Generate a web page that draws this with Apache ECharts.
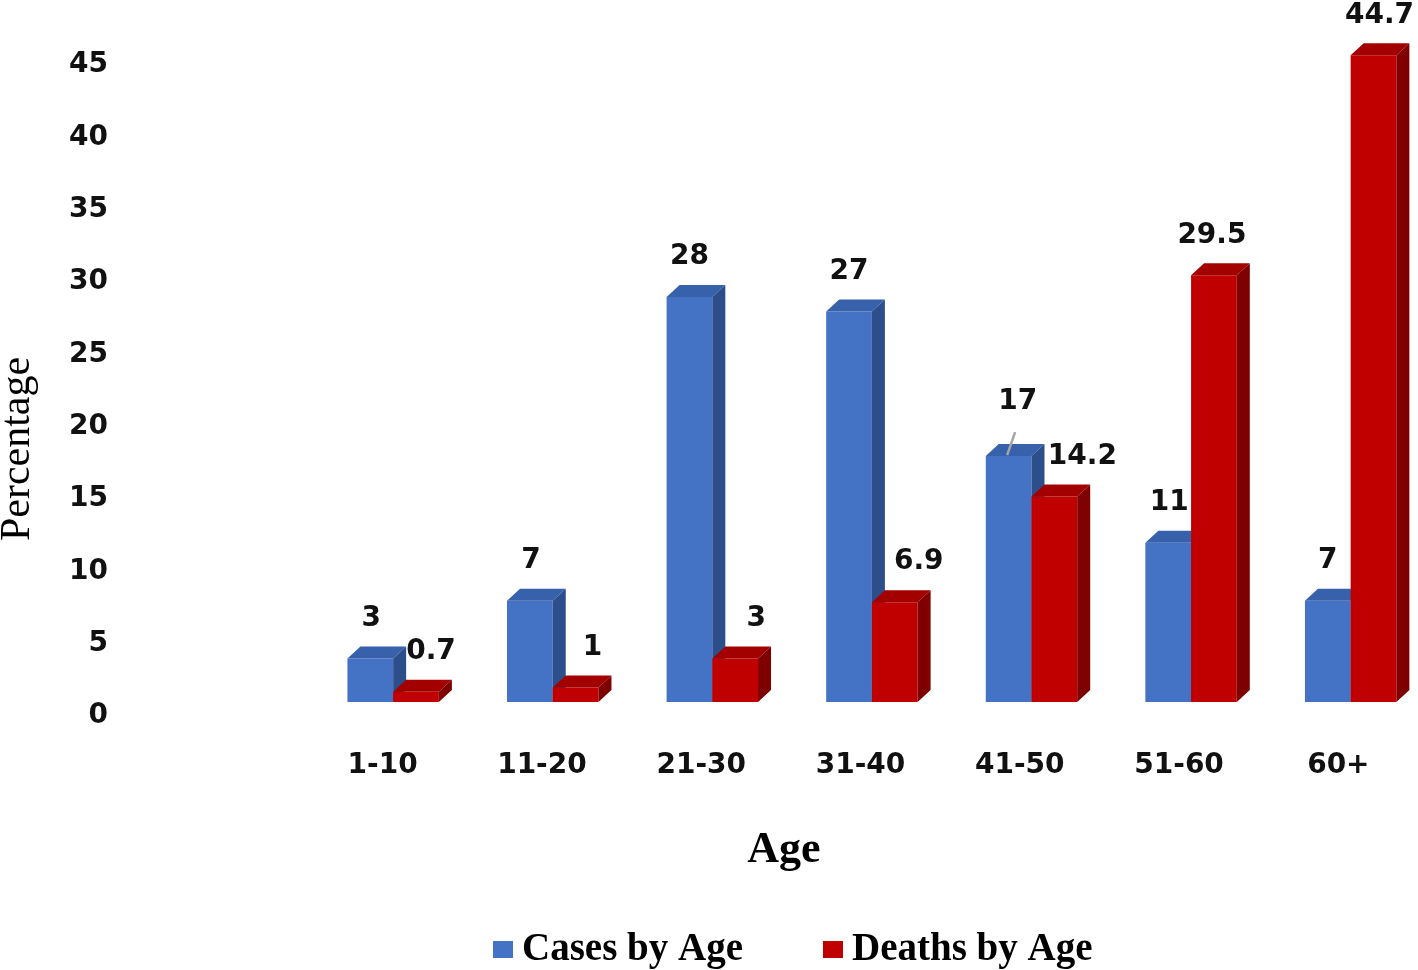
<!DOCTYPE html>
<html>
<head>
<meta charset="utf-8">
<script src="https://cdn.jsdelivr.net/npm/echarts@6/dist/echarts.min.js"></script>
<style>html,body{margin:0;padding:0;background:#fff}#c{width:1418px;height:970px}</style>
</head>
<body>
<div id="c"></div>
<script>
const ages = ['1-10', '11-20', '21-30', '31-40', '41-50', '51-60', '60+'];
const cases = [3, 7, 28, 27, 17, 11, 7];
const deaths = [0.7, 1, 3, 6.9, 14.2, 29.5, 44.7];
const yMin = 0, yMax = 45, yStep = 5;
// label nudges (pixels) as seen in the original picture
const casesLabelShift = [1, 1, 0, 0, 9, 1, 0];
const deathsLabelShift = [15, 17, 21, 24, 28, -2, 6];

const LIFT = 14, DX = 13, DY = 12, PAIR_SHIFT = 10.5;
const LABEL_FONT = 'bold 28px "DejaVu Sans"';

function makeRender(side, colors, shifts, leaderIdx) {
  return function (params, api) {
    const i = api.value(0), v = api.value(1);
    const base = api.coord([i, 0]);
    const top = api.coord([i, v]);
    const band = api.size([1, 0])[0];
    const w = band * 0.287;
    const mid = base[0] + PAIR_SHIFT + i * 0.3;
    const x0 = side < 0 ? mid - w : mid;
    const x1 = x0 + w;
    const yb = base[1] - LIFT;
    const yt = top[1] - LIFT;
    const children = [
      { type: 'rect', shape: { x: x0, y: yt, width: w, height: yb - yt }, style: { fill: colors[0] } },
      { type: 'polygon', shape: { points: [[x0, yt], [x0 + DX, yt - DY], [x1 + DX, yt - DY], [x1, yt]] }, style: { fill: colors[1] } },
      { type: 'polygon', shape: { points: [[x1, yt], [x1 + DX, yt - DY], [x1 + DX, yb - DY], [x1, yb]] }, style: { fill: colors[2] } }
    ];
    const cx = (x0 + x1) / 2 + shifts[i];
    let ly = yt - 40;
    if (leaderIdx === i) {
      ly = yt - 54;
      children.push({ type: 'line', shape: { x1: (x0 + x1) / 2 - 1.5, y1: yt - 1, x2: (x0 + x1) / 2 + 6.5, y2: yt - 24 }, style: { stroke: '#a6a6a6', lineWidth: 2.5 } });
    }
    children.push({ type: 'text', style: { x: cx, y: ly, text: String(v), font: LABEL_FONT, fill: '#111', align: 'center', verticalAlign: 'middle' } });
    return { type: 'group', children: children };
  };
}

const chart = echarts.init(document.getElementById('c'));
chart.setOption({
  animation: false,
  backgroundColor: '#fff',
  grid: { left: 303, top: 65, width: 1115, height: 651, containLabel: false },
  xAxis: {
    type: 'category', data: ages,
    axisLine: { show: false }, axisTick: { show: false },
    axisLabel: { margin: 36, fontFamily: 'DejaVu Sans', fontWeight: 'bold', fontSize: 28, color: '#111' }
  },
  yAxis: {
    type: 'value', min: yMin, max: yMax, interval: yStep,
    axisLine: { show: false }, axisTick: { show: false }, splitLine: { show: false },
    axisLabel: { margin: 195, fontFamily: 'DejaVu Sans', fontWeight: 'bold', fontSize: 28, color: '#111' }
  },
  legend: {
    left: 493, top: 930, padding: 0, itemWidth: 20, itemHeight: 17, itemGap: 80, icon: 'rect',
    textStyle: { fontFamily: 'Liberation Serif', fontWeight: 'bold', fontSize: 39, color: '#000', padding: [0, 0, 0, 4] },
    data: ['Cases by Age', 'Deaths by Age']
  },
  graphic: [
    { type: 'text', x: 18, y: 449, rotation: Math.PI / 2, style: { text: 'Percentage', font: '42px "Liberation Serif"', fill: '#000', align: 'center', verticalAlign: 'middle' } },
    { type: 'text', x: 784, y: 851, style: { text: 'Age', font: 'bold 44px "Liberation Serif"', fill: '#000', align: 'center', verticalAlign: 'middle' } }
  ],
  series: [
    { name: 'Cases by Age', type: 'custom', itemStyle: { color: '#4472C4' }, clip: false,
      renderItem: makeRender(-1, ['#4472C4', '#3761AB', '#2C4F8C'], casesLabelShift, 4),
      data: cases.map((v, i) => [i, v]) },
    { name: 'Deaths by Age', type: 'custom', itemStyle: { color: '#C00000' }, clip: false,
      renderItem: makeRender(1, ['#C00000', '#A30000', '#7E0000'], deathsLabelShift, -1),
      data: deaths.map((v, i) => [i, v]) }
  ]
});
</script>
</body>
</html>
